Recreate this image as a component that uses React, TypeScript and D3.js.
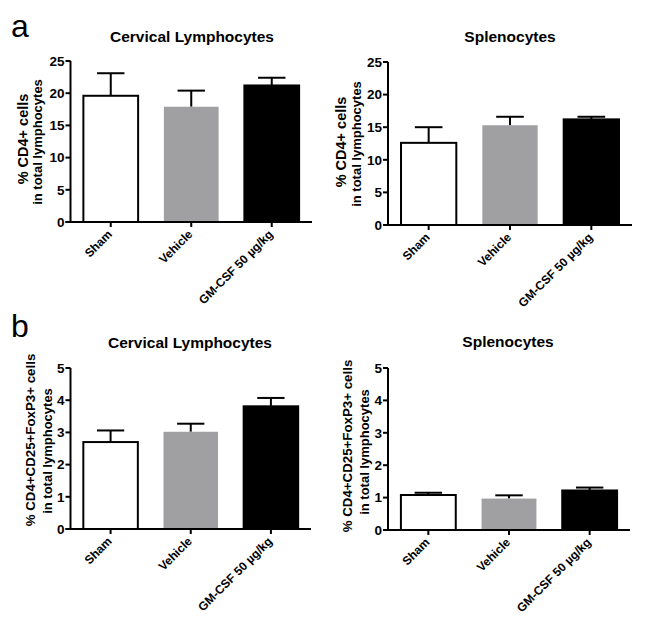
import React from "react";
import * as d3 from "d3";

// groups on every x axis
const groups = ["Sham", "Vehicle", "GM-CSF 50 µg/kg"];

// % CD4+ cells (mean, SEM)
const cd4CervicalMean = [19.6, 17.9, 21.2];
const cd4CervicalSem = [3.5, 2.5, 1.2];
const cd4SplenoMean = [12.6, 15.3, 16.2];
const cd4SplenoSem = [2.4, 1.3, 0.4];

// % CD4+CD25+FoxP3+ cells (mean, SEM)
const tregCervicalMean = [2.7, 3.02, 3.81];
const tregCervicalSem = [0.36, 0.25, 0.26];
const tregSplenoMean = [1.08, 0.97, 1.22];
const tregSplenoSem = [0.07, 0.1, 0.09];

const cd4Ticks = [0, 5, 10, 15, 20, 25];
const tregTicks = [0, 1, 2, 3, 4, 5];

const fills = ["#ffffff", "#a0a0a2", "#000000"];
const font = "'Liberation Sans', Arial, sans-serif";

type PanelProps = {
  title: string;
  label: string[];
  labelSize: number[];
  means: number[];
  sems: number[];
  ticks: number[];
  left: number;
  right: number;
  top: number;
  bottom: number;
  titleX: number;
  titleY: number;
  labelX: number[];
  labelY: number[];
};

const Panel = (p: PanelProps) => {
  const yMax = p.ticks[p.ticks.length - 1];
  const x = d3
    .scaleBand()
    .domain(groups)
    .range([p.left, p.right])
    .paddingInner(0.32)
    .paddingOuter(0.16);
  const y = d3.scaleLinear().domain([0, yMax]).range([p.bottom, p.top]);
  const bw = x.bandwidth();

  return (
    <g fontFamily={font} fontWeight="bold">
      <text x={p.titleX} y={p.titleY} textAnchor="middle" fontSize={15.5}>
        {p.title}
      </text>
      {p.label.map((t, i) => (
        <text
          key={t}
          transform={"translate(" + p.labelX[i] + "," + p.labelY[i] + ") rotate(-90)"}
          textAnchor="middle"
          fontSize={p.labelSize[i]}
        >
          {t}
        </text>
      ))}

      {/* bars with upper error bars */}
      {groups.map((g, i) => {
        const x0 = x(g) as number;
        const cx = x0 + bw / 2;
        const yTop = y(p.means[i]);
        const yErr = y(p.means[i] + p.sems[i]);
        return (
          <g key={g}>
            <line x1={cx} x2={cx} y1={yTop} y2={yErr} stroke="#000" strokeWidth={2} />
            <line x1={cx - bw / 4} x2={cx + bw / 4} y1={yErr} y2={yErr} stroke="#000" strokeWidth={2} />
            <rect
              x={x0}
              y={yTop}
              width={bw}
              height={p.bottom - yTop}
              fill={fills[i]}
              stroke={i === 1 ? "none" : "#000"}
              strokeWidth={2}
            />
          </g>
        );
      })}

      {/* y axis */}
      <line x1={p.left} x2={p.left} y1={p.top} y2={p.bottom} stroke="#000" strokeWidth={2} />
      {p.ticks.map((t) => (
        <g key={t}>
          <line x1={p.left - 5} x2={p.left} y1={y(t)} y2={y(t)} stroke="#000" strokeWidth={2} />
          <text x={p.left - 6} y={y(t)} dy="0.36em" textAnchor="end" fontSize={13.5}>
            {t}
          </text>
        </g>
      ))}

      {/* x axis */}
      <line x1={p.left - 5} x2={p.right} y1={p.bottom} y2={p.bottom} stroke="#000" strokeWidth={2} />
      {groups.map((g) => {
        const cx = (x(g) as number) + bw / 2;
        return (
          <g key={g}>
            <line x1={cx} x2={cx} y1={p.bottom} y2={p.bottom + 5} stroke="#000" strokeWidth={2} />
            <text
              transform={"translate(" + (cx + 2) + "," + (p.bottom + 13) + ") rotate(-45)"}
              textAnchor="end"
              fontSize={12}
            >
              {g}
            </text>
          </g>
        );
      })}
    </g>
  );
};

export default function App() {
  const cd4Label = ["% CD4+ cells", "in total lymphocytes"];
  const tregLabel = ["% CD4+CD25+FoxP3+ cells", "in total lymphocytes"];
  return (
    <svg
      width={649}
      height={627}
      style={{ position: "absolute", left: 0, top: 0, background: "#fff" }}
    >
      <text x={11} y={37} fontFamily={font} fontSize={32}>
        a
      </text>
      <text x={11} y={337} fontFamily={font} fontSize={32}>
        b
      </text>
      <Panel
        title="Cervical Lymphocytes"
        label={cd4Label}
        labelSize={[14.5, 13]}
        means={cd4CervicalMean}
        sems={cd4CervicalSem}
        ticks={cd4Ticks}
        left={70.5}
        right={312}
        top={61}
        bottom={222}
        titleX={192}
        titleY={42}
        labelX={[28, 42]}
        labelY={[139, 142]}
      />
      <Panel
        title="Splenocytes"
        label={cd4Label}
        labelSize={[14.5, 13]}
        means={cd4SplenoMean}
        sems={cd4SplenoSem}
        ticks={cd4Ticks}
        left={388}
        right={632}
        top={62}
        bottom={225}
        titleX={510}
        titleY={42}
        labelX={[346, 361]}
        labelY={[142, 144]}
      />
      <Panel
        title="Cervical Lymphocytes"
        label={tregLabel}
        labelSize={[13.3, 13]}
        means={tregCervicalMean}
        sems={tregCervicalSem}
        ticks={tregTicks}
        left={70.5}
        right={311}
        top={368}
        bottom={529}
        titleX={190}
        titleY={348}
        labelX={[35, 52]}
        labelY={[440, 451]}
      />
      <Panel
        title="Splenocytes"
        label={tregLabel}
        labelSize={[13.3, 13]}
        means={tregSplenoMean}
        sems={tregSplenoSem}
        ticks={tregTicks}
        left={388}
        right={630}
        top={368}
        bottom={530}
        titleX={508}
        titleY={347}
        labelX={[352, 369]}
        labelY={[446, 452]}
      />
    </svg>
  );
}
